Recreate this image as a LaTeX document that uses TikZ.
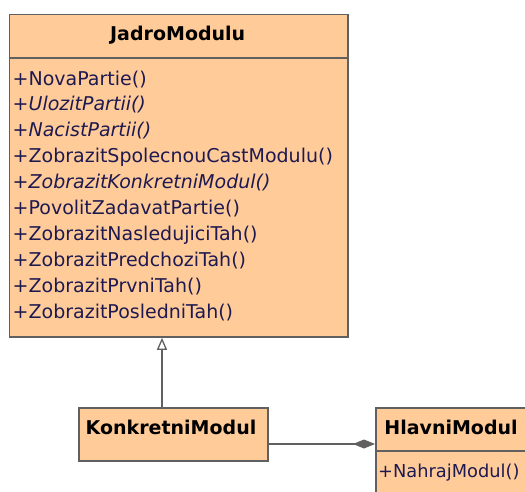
\documentclass[tikz,border=0pt]{standalone}
\usepackage{fontspec}
\setmainfont{DejaVu Sans}
\usetikzlibrary{arrows.meta}
\definecolor{peach}{RGB}{255,204,153}
\definecolor{edge}{RGB}{96,96,96}
\definecolor{navy}{RGB}{30,25,80}
\tikzset{
  umlbox/.style={draw=edge, fill=peach, line width=1.8pt, inner sep=0pt, anchor=north west},
  sepline/.style={draw=edge, line width=1.8pt},
  title/.style={inner sep=0pt, anchor=base, font=\fontsize{19}{23}\selectfont\bfseries, text=black},
  op/.style={inner sep=0pt, anchor=base west, font=\fontsize{19}{23}\selectfont, text=navy},
  opi/.style={op, font=\fontsize{19}{23}\selectfont\itshape},
  gen/.style={draw=edge, line width=1.8pt, -{Triangle[open, length=12pt, width=10pt, fill=white, line width=1.3pt]}},
  comp/.style={draw=edge, line width=1.8pt, -{Diamond[length=22pt, width=9pt, fill=edge]}}
}
\begin{document}
\begin{tikzpicture}[x=1pt, y=-1pt]
\useasboundingbox (0,0) rectangle (525,491);
% JadroModulu
\node[umlbox, minimum width=338.5pt, minimum height=322.5pt] (jadro) at (8.5,13.5) {};
\draw[sepline] (jadro.west |- 0,58) -- (jadro.east |- 0,58);
\node[title] (jadrot) at (177.7,40.5) {JadroModulu};
\node[op]  (m1)  at (12.5,85)    {+NovaPartie()};
\node[opi] (m2)  at (12.5,110.9) {+UlozitPartii()};
\node[opi] (m3)  at (12.5,136.8) {+NacistPartii()};
\node[op]  (m4)  at (12.5,162.7) {+ZobrazitSpolecnouCastModulu()};
\node[opi] (m5)  at (12.5,188.6) {+ZobrazitKonkretniModul()};
\node[op]  (m6)  at (12.5,214.5) {+PovolitZadavatPartie()};
\node[op]  (m7)  at (12.5,240.4) {+ZobrazitNasledujiciTah()};
\node[op]  (m8)  at (12.5,266.3) {+ZobrazitPredchoziTah()};
\node[op]  (m9)  at (12.5,292.2) {+ZobrazitPrvniTah()};
\node[op]  (m10) at (12.5,318.1) {+ZobrazitPosledniTah()};
% KonkretniModul
\node[umlbox, minimum width=189pt, minimum height=53pt] (konk) at (78,407) {};
\node[title] (konkt) at (171,434) {KonkretniModul};
% HlavniModul
\node[umlbox, minimum width=156pt, minimum height=100pt] (hlav) at (375,407) {};
\draw[sepline] (hlav.west |- 0,451) -- (hlav.east |- 0,451);
\node[title] (hlavt) at (451,434) {HlavniModul};
\node[op, font=\fontsize{17.8}{21}\selectfont] (h1) at (378,477) {+NahrajModul()};
% connectors
\coordinate (genx) at (162,0);
\coordinate (assy) at (0,444);
\draw[gen] (konk.north -| genx) -- (jadro.south -| genx);
\draw[comp] (konk.east |- assy) -- (hlav.west |- assy);
\end{tikzpicture}
\end{document}
